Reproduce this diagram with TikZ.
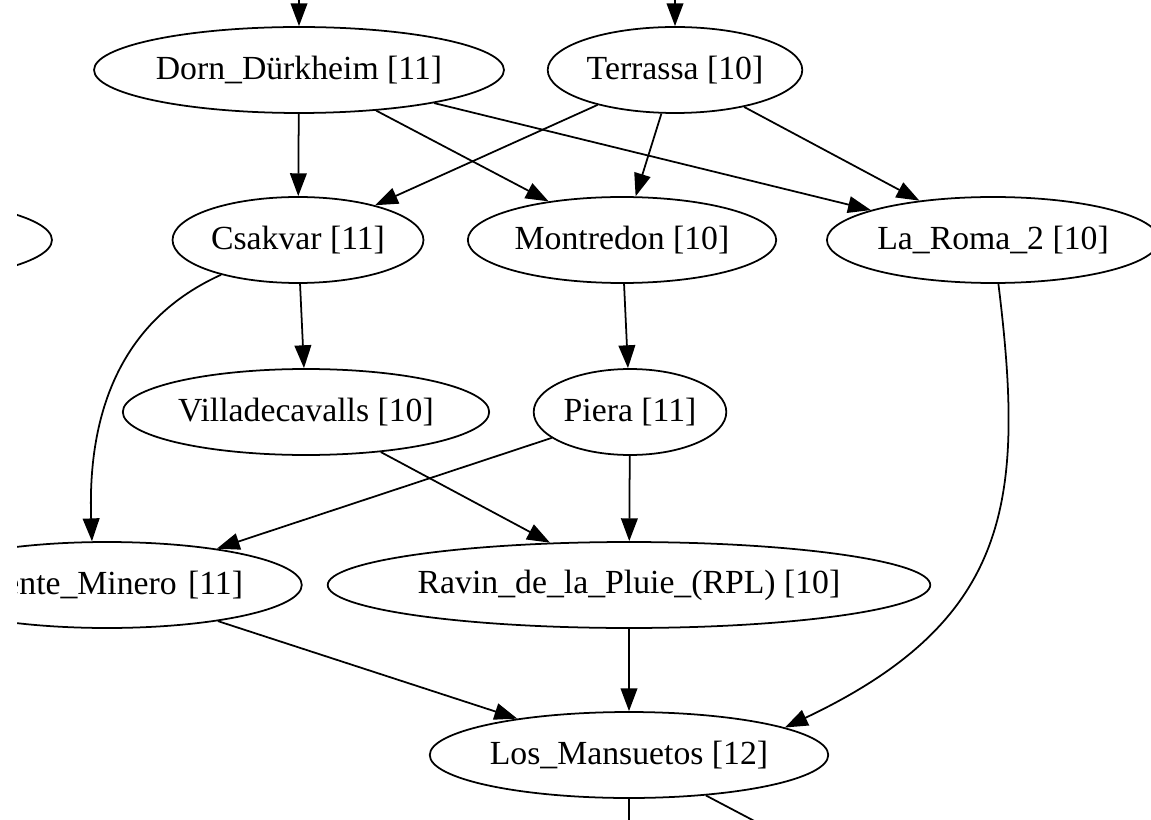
\documentclass[tikz,border=0pt]{standalone}
\usepackage{fontspec}
\setmainfont{Liberation Serif}
\usetikzlibrary{arrows.meta, shapes.geometric}

\begin{document}
\begin{tikzpicture}[
      > = {Triangle[length=13pt, width=9.5pt]}, % arrow head style
      x = 0.02cm, y = -0.02cm, % one unit per pixel, y downwards
      line width = 1pt, % line style
    ]

    \tikzstyle{site}=[
      ellipse,
      draw = black,
      fill = white,
      inner xsep = 1pt,
      minimum height = 1.72cm,
      font = \fontsize{19.2}{22}\selectfont
    ]

    \useasboundingbox (0, 0) rectangle (1151, 820);
    \clip (17, 0) rectangle (1151, 820);

    \node[site] (dorn) [at={(299, 70)}] {Dorn\_Dürkheim [11]};
    \node[site] (terrassa) [at={(675, 70)}] {Terrassa [10]};
    \node[site, minimum width = 7.44cm] (offleft) [at={(-134, 240)}] {};
    \node[site] (csakvar) [at={(298, 240)}] {Csakvar [11]};
    \node[site] (montredon) [at={(622, 240)}] {Montredon [10]};
    \node[site] (laroma) [at={(993, 240)}] {La\_Roma\_2 [10]};
    \node[site] (villa) [at={(306, 412)}] {Villadecavalls [10]};
    \node[site] (piera) [at={(630, 412)}] {Piera [11]};
    \node[site, text width = 5.44cm, align = right] (minero) [at={(107, 585)}] {\mbox{ente\_Minero [11]}};
    \node[site] (ravin) [at={(629, 585)}] {Ravin\_de\_la\_Pluie\_(RPL) [10]};
    \node[site] (mansuetos) [at={(629, 755)}] {Los\_Mansuetos [12]};

    % loose ends outside the frame
    \coordinate (dornfrom) at (299, -20);
    \coordinate (terrfrom) at (675, -20);
    \coordinate (mansout) at (629, 845);
    \coordinate (mansoutr) at (800, 845);

    \path[->] (dornfrom) edge (dorn);
    \path[->] (terrfrom) edge (terrassa);
    \path[->] (dorn) edge (csakvar);
    \path[->] (dorn) edge (montredon);
    \path[->] (dorn) edge (laroma);
    \path[->] (terrassa) edge (csakvar);
    \path[->] (terrassa) edge (montredon);
    \path[->] (terrassa) edge (laroma);
    \path[->] (csakvar) edge (villa);
    \path[->] (montredon) edge (piera);
    \path[->] (villa) edge (ravin);
    \path[->] (piera) edge (ravin);
    \path[->] (piera) edge (minero);
    \path[->] (minero) edge (mansuetos);
    \path[->] (ravin) edge (mansuetos);
    \draw[->] (csakvar) .. controls (110, 325) and (88, 430) .. (minero.109);
    \draw[->] (laroma) .. controls (1025, 500) and (1012, 620) .. (mansuetos.10);
    \path (mansuetos) edge (mansout);
    \path (mansuetos) edge (mansoutr);

  \end{tikzpicture}
\end{document}
